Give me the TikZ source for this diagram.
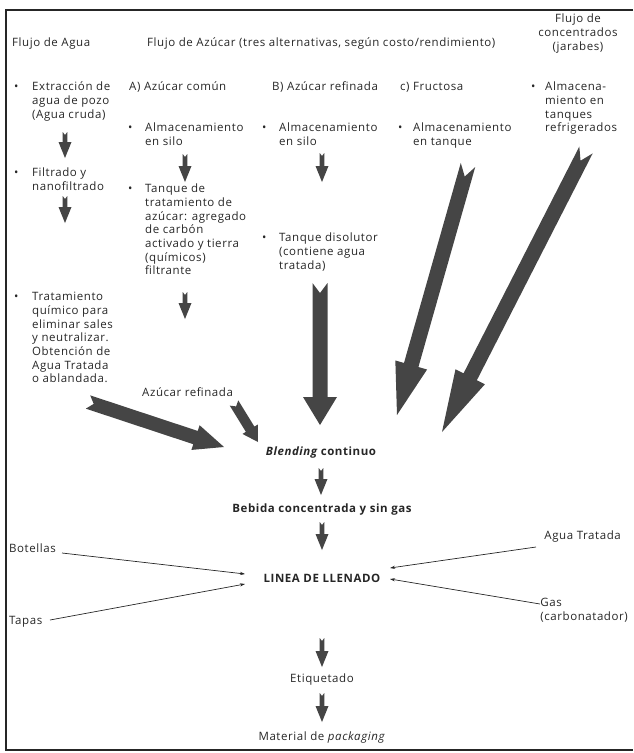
\documentclass[tikz,border=0pt]{standalone}
\usepackage{fontspec}
\setmainfont{Open Sans}[LetterSpace=5]
\usetikzlibrary{calc,arrows.meta}
\definecolor{ink}{gray}{0.15}
\definecolor{arrowgray}{gray}{0.27}
% fat notched arrow: [colour]{tail}{tip}{half shaft}{half head}{head length}{notch}
\newcommand{\fatarr}[7][arrowgray]{%
  \coordinate (fa-p) at ($(#3)!#6!(#2)$);
  \coordinate (fa-n) at ($(#2)!#7!(#3)$);
  \fill[#1] ($(#2)!#4!90:(#3)$) -- (fa-n) -- ($(#2)!#4!-90:(#3)$)
    -- ($(fa-p)!#4!-90:(#3)$) -- ($(fa-p)!#5!-90:(#3)$) -- (#3)
    -- ($(fa-p)!#5!90:(#3)$) -- ($(fa-p)!#4!90:(#3)$) -- cycle;
}
\newcommand{\smallarr}[2]{\fatarr{#1}{#2}{2.3pt}{6.5pt}{16pt}{3pt}}
\begin{document}
\begin{tikzpicture}[x=1pt,y=-1pt,
  txt/.style={inner sep=0pt,font=\fontsize{11.5}{13.7}\selectfont,text=ink,align=left,anchor=north west},
  ctxt/.style={txt,anchor=north,align=center},
  bul/.style={txt},
  thinarrow/.style={draw=ink,line width=0.7pt,-{Stealth[length=5pt,width=3.2pt]}}]
\useasboundingbox (0,0) rectangle (633,753);
% frame
\draw[ink,line width=1.1pt] (633,10) -- (6,10) -- (6,750) -- (633,750);
% headers
\node[txt] (hW) at (12,37) {\strut Flujo de Agua};
\node[txt] (hS) at (147,37) {\strut Flujo de Azúcar (tres alternativas, según costo/rendimiento)};
\node[ctxt] (hC) at (578,13) {\strut Flujo de\\concentrados\\(jarabes)};
% row 1
\node[bul] (bW1) at (14,81) {\strut •};
\node[txt] (W1) at (32,81) {\strut Extracción de\\agua de pozo\\(Agua cruda)};
\node[txt] (A0) at (129,81) {\strut A) Azúcar común};
\node[txt] (B0) at (272,81) {\strut B) Azúcar refinada};
\node[txt] (C0) at (400,81) {\strut c) Fructosa};
\node[bul] (bJ1) at (531,81) {\strut •};
\node[txt] (J1) at (545,81) {\strut Almacena-\\miento en\\tanques\\refrigerados};
% row 2
\node[bul] (bA1) at (128,122) {\strut •};
\node[txt] (A1) at (145,122) {\strut Almacenamiento\\en silo};
\node[bul] (bB1) at (262,122) {\strut •};
\node[txt] (B1) at (279,122) {\strut Almacenamiento\\en silo};
\node[bul] (bC1) at (398,122) {\strut •};
\node[txt] (C1) at (413,122) {\strut Almacenamiento\\en tanque};
% water column
\node[bul] (bW2) at (14,167) {\strut •};
\node[txt] (W2) at (32,167) {\strut Filtrado y\\nanofiltrado};
\node[bul] (bW3) at (14,291) {\strut •};
\node[txt] (W3) at (32,291) {\strut Tratamiento\\químico para\\eliminar sales\\y neutralizar.\\Obtención de\\Agua Tratada\\o ablandada.};
% sugar A
\node[bul] (bA2) at (128,183) {\strut •};
\node[txt] (A2) at (145,183) {\strut Tanque de\\tratamiento de\\azúcar: agregado\\de carbón\\activado y tierra\\(químicos)\\filtrante};
% sugar B
\node[bul] (bB2) at (262,232) {\strut •};
\node[txt] (B2) at (279,232) {\strut Tanque disolutor\\(contiene agua\\tratada)};
% middle / bottom
\node[txt] (refin) at (142,387) {\strut Azúcar refinada};
\node[ctxt] (blend) at (321,446) {\strut\bfseries\itshape Blending\upshape\ continuo};
\node[ctxt] (beb) at (322,503) {\strut\bfseries Bebida concentrada y sin gas};
\node[ctxt] (linea) at (322,573) {\strut\bfseries LINEA DE LLENADO};
\node[ctxt] (etiq) at (322,673) {\strut Etiquetado};
\node[ctxt] (mat) at (322,731) {\strut Material de \textit{packaging}};
\node[txt] (bot) at (9,543) {\strut Botellas};
\node[txt] (tap) at (9,615) {\strut Tapas};
\node[txt,anchor=north east] (agua) at (621,530) {\strut Agua Tratada};
\node[txt,anchor=north east] (gas) at (628,597) {\strut Gas\\(carbonatador)};
% thin arrows
\coordinate (botS) at (62,553);  \coordinate (botT) at (245,574);
\coordinate (tapS) at (50,620);  \coordinate (tapT) at (245,584);
\coordinate (aguS) at (536,547); \coordinate (aguT) at (390,568);
\coordinate (gasS) at (540,604); \coordinate (gasT) at (390,579);
\draw[thinarrow] (botS) -- (botT);
\draw[thinarrow] (tapS) -- (tapT);
\draw[thinarrow] (aguS) -- (aguT);
\draw[thinarrow] (gasS) -- (gasT);
% small down arrows
\coordinate (sw1a) at (65,132); \coordinate (sw1b) at (65,158);
\coordinate (sw2a) at (65,196); \coordinate (sw2b) at (65,223);
\coordinate (sa1a) at (185,154); \coordinate (sa1b) at (185,182);
\coordinate (sa2a) at (185,292); \coordinate (sa2b) at (185,319);
\coordinate (sb1a) at (322,153); \coordinate (sb1b) at (322,182);
\coordinate (sbla) at (321,468); \coordinate (sblb) at (321,495);
\coordinate (sbea) at (322,522); \coordinate (sbeb) at (322,550);
\coordinate (seta) at (322,638); \coordinate (setb) at (322,667);
\coordinate (spaa) at (322,693); \coordinate (spab) at (322,722);
\smallarr{sw1a}{sw1b}
\smallarr{sw2a}{sw2b}
\smallarr{sa1a}{sa1b}
\smallarr{sa2a}{sa2b}
\smallarr{sb1a}{sb1b}
\smallarr{sbla}{sblb}
\smallarr{sbea}{sbeb}
\smallarr{seta}{setb}
\smallarr{spaa}{spab}
% big arrows into blending
\coordinate (midT) at (320,283); \coordinate (midH) at (320,425);
\coordinate (fruT) at (468,165); \coordinate (fruH) at (397,415);
\coordinate (conT) at (586,150); \coordinate (conH) at (442,432);
\coordinate (watT) at (88,402);  \coordinate (watH) at (224,447);
\coordinate (refT) at (234,403); \coordinate (refH) at (258,442);
\fatarr{midT}{midH}{7.5pt}{17pt}{28pt}{10pt}
\fatarr{fruT}{fruH}{7.5pt}{16.5pt}{52pt}{12pt}
\fatarr{conT}{conH}{7.5pt}{16.5pt}{62pt}{12pt}
\fatarr{watT}{watH}{7pt}{13pt}{30pt}{6pt}
\fatarr{refT}{refH}{5pt}{9pt}{15pt}{4pt}
\end{tikzpicture}
\end{document}
